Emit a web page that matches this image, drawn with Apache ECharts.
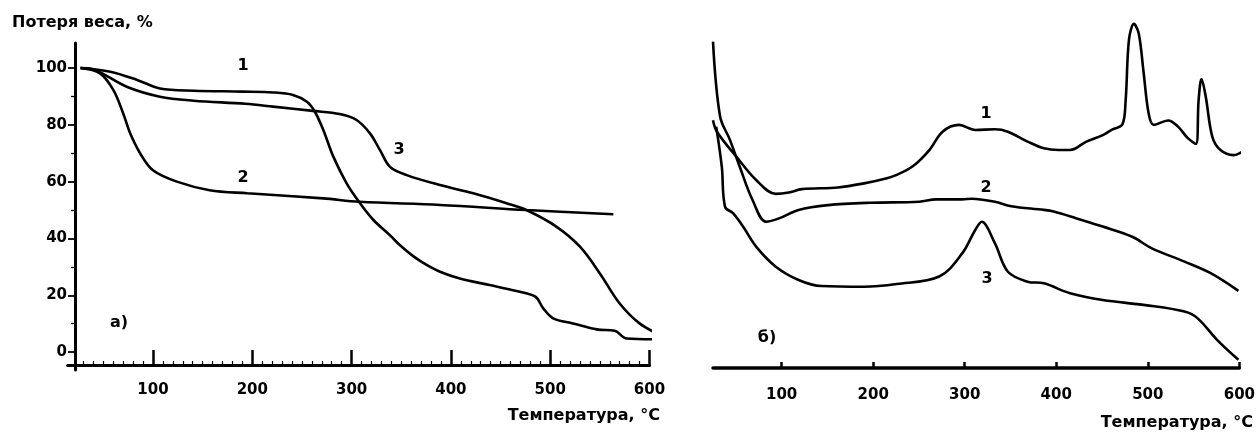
<!DOCTYPE html>
<html>
<head>
<meta charset="utf-8">
<script src="https://cdn.jsdelivr.net/npm/echarts@6/dist/echarts.min.js"></script>
<style>html,body{margin:0;padding:0;background:#fff}#c{width:1258px;height:432px}</style>
</head>
<body>
<div id="c"></div>
<script>
// ---- data (temperature °C, value) ----
const tempTicks = [100, 200, 300, 400, 500, 600];
const tempMinorLeft = [30, 40, 50, 60, 70, 80, 90, 110, 120, 130, 140, 150, 160, 170, 180, 190,
  210, 220, 230, 240, 250, 260, 270, 280, 290, 310, 320, 330, 340, 350, 360, 370, 380, 390,
  410, 420, 430, 440, 450, 460, 470, 480, 490, 510, 520, 530, 540, 550, 560, 570, 580, 590];
const weightTicks = [0, 20, 40, 60, 80, 100];
const weightMinor = [10, 30, 50, 70, 90];

// a) weight loss, %
const tg1 = [[27,100],[57,98.7],[84,95.8],[107,92.8],[141,92],[190,91.7],[221,91.4],[241,90.5],[255,88.1],[263,84.6],[271.5,78.2],[281.6,68.8],[295,59.4],[308.5,52.4],[322,46.5],[339,41],[349,37.5],[362,33.8],[376,30.6],[389,28.3],[409,25.9],[439,23.6],[466,21.5],[485,19.5],[493,15.4],[503,11.9],[523,10.1],[547,8],[565,7.5],[577,4.8],[614,4.5]];
const tg2 = [[27,100],[46.6,98.1],[60,92.3],[70,84],[77,77],[87,70],[100,64],[124,60],[157,57],[195,55.9],[271.5,54.1],[308,52.9],[389,51.8],[476,50],[563.6,48.5]];
const tg3 = [[27,100],[40,99.5],[73.5,93.4],[107,89.9],[141,88.5],[193,87.4],[221,86.4],[261,84.9],[288,83.8],[305,81.7],[318.5,77],[328.6,71.1],[338.7,65.2],[355.5,62.3],[389,58.8],[422.6,55.9],[456,52.4],[476,50],[506.5,44.1],[530,37.1],[550,27.7],[570,17.1],[590,10.1],[614,5.4]];

// б) DTA curves, arbitrary units
const dta1 = [[25,72.9],[29.3,69.5],[50.7,62.1],[72.1,55.3],[93.6,51.2],[107.8,51.6],[122.1,52.6],[161.4,53.1],[190,54.3],[215,55.8],[225.7,56.8],[243.6,59.4],[261.4,64.1],[275.8,69.5],[293.6,71.5],[311.5,70],[332.9,70.2],[347.2,69.5],[368.6,66.6],[386.5,64.6],[402.6,64.1],[415.1,64.1],[432.9,66.6],[450.8,68.5],[461.5,70.2],[472.2,71.6],[475.8,78.8],[479.4,96.5],[484.8,101.2],[490.1,98.4],[495.5,86.7],[500.9,74.9],[506.5,71.5],[522.3,72.8],[533,71],[543.7,67.6],[552.6,65.9],[555.5,78.8],[558.7,85],[563.3,79.8],[570.5,68],[579.4,64.1],[593.7,62.6],[604.4,63.8]];
const dta2 = [[25,96],[32.8,73.9],[43.5,67.1],[54.2,59.2],[68.2,49.4],[82.9,43],[97.1,44],[118.5,46.5],[150.7,47.9],[196.8,48.6],[250.4,48.9],[268.6,49.6],[297.2,49.6],[308,49.8],[332.9,48.9],[350.8,47.6],[386.5,46.5],[397.2,46],[422.2,44],[450.8,41.6],[483,38.6],[504.4,35.2],[540.1,31.3],[568.7,27.9],[599,22.7]];
const dta3 = [[28.5,71],[34.6,59.2],[38.2,47.4],[47.1,45.5],[57.8,41.6],[72.1,35.7],[93.6,29.8],[118.5,25.9],[143.5,24.1],[190,23.9],[225.7,24.7],[272.1,26.9],[297.2,33.7],[311.5,40.6],[318.6,43],[332.9,36.7],[347.2,28.3],[368.6,25.4],[386.5,24.9],[415.1,22],[450.8,20],[497.2,18.5],[540.1,16.6],[554.5,14.6],[575.9,8.2],[599,2.4]];

const FONT = '"DejaVu Sans", "Liberation Sans", sans-serif';
const lbl = {color: '#000', fontWeight: 'bold', fontSize: 15, fontFamily: FONT};
const lineStyle = {color: '#000', width: 2.6};

function line(data, xi, yi) {
  return {type: 'line', data: data, xAxisIndex: xi, yAxisIndex: yi, showSymbol: false, symbol: 'none',
    smooth: 0.35, clip: false, lineStyle: lineStyle, silent: true, animation: false};
}
function txt(s, x, y, align, size) {
  return {type: 'text', x: x, y: y, silent: true,
    style: {text: s, fill: '#000', font: 'bold ' + (size || 16) + 'px ' + FONT, textAlign: align || 'center', textVerticalAlign: 'middle', align: align || 'center', verticalAlign: 'middle'}};
}

const chart = echarts.init(document.getElementById('c'), null, {renderer: 'canvas'});
chart.setOption({
  animation: false,
  backgroundColor: '#fff',
  grid: [
    {left: 67.6, right: 608.5, top: 43, bottom: 62},
    {left: 713, right: 8.6, top: 11, bottom: 64}
  ],
  xAxis: [
    {gridIndex: 0, type: 'value', position: 'bottom', min: 14, max: 600, offset: -5,
      axisLine: {show: true, onZero: false, lineStyle: {color: '#000', width: 3}},
      axisTick: {show: true, customValues: tempTicks, inside: true, length: 15, lineStyle: {color: '#000', width: 2.5}},
      axisLabel: Object.assign({customValues: tempTicks, margin: 18}, lbl),
      splitLine: {show: false}},
    {gridIndex: 0, type: 'value', position: 'bottom', min: 14, max: 600, offset: -5,
      axisLine: {show: false, onZero: false},
      axisTick: {show: true, customValues: tempMinorLeft, inside: true, length: 4, lineStyle: {color: '#000', width: 1.2}},
      axisLabel: {show: false}, splitLine: {show: false}},
    {gridIndex: 1, type: 'value', position: 'bottom', min: 25, max: 600,
      axisLine: {show: true, onZero: false, lineStyle: {color: '#000', width: 3.5}},
      axisTick: {show: true, customValues: tempTicks, inside: true, length: 6, lineStyle: {color: '#000', width: 2.5}},
      axisLabel: Object.assign({customValues: tempTicks, margin: 20}, lbl),
      splitLine: {show: false}}
  ],
  yAxis: [
    {gridIndex: 0, type: 'value', position: 'left', min: -6.3, max: 108.8, offset: -7.4,
      axisLine: {show: true, onZero: false, lineStyle: {color: '#000', width: 3}},
      axisTick: {show: true, customValues: weightTicks, length: 7, lineStyle: {color: '#000', width: 1.8}},
      axisLabel: Object.assign({customValues: weightTicks, margin: 8}, lbl),
      splitLine: {show: false}},
    {gridIndex: 1, type: 'value', min: 0, max: 105, show: false},
    {gridIndex: 0, type: 'value', position: 'left', min: -6.3, max: 108.8, offset: -7.4,
      axisLine: {show: false, onZero: false},
      axisTick: {show: true, customValues: weightMinor, length: 4, lineStyle: {color: '#000', width: 1.3}},
      axisLabel: {show: false}, splitLine: {show: false}}
  ],
  series: [
    line(tg1, 0, 0), line(tg2, 0, 0), line(tg3, 0, 0),
    line(dta1, 2, 1), line(dta2, 2, 1), line(dta3, 2, 1)
  ],
  graphic: [
    txt('Потеря веса, %', 12, 23, 'left', 16),
    txt('а)', 119, 323),
    txt('1', 243, 66), txt('2', 243, 178), txt('3', 399, 150),
    txt('Температура, °C', 660, 416, 'right', 16),
    txt('б)', 767, 338),
    txt('1', 986, 114), txt('2', 986, 188), txt('3', 987, 279),
    txt('Температура, °C', 1253, 423, 'right', 16)
  ]
});
</script>
</body>
</html>
